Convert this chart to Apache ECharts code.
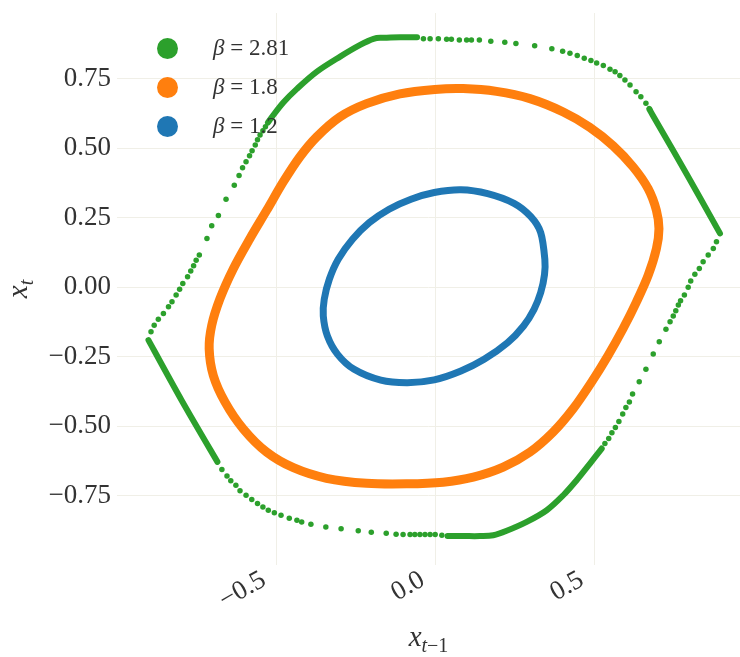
<!DOCTYPE html>
<html><head><meta charset="utf-8">
<script src="https://cdn.jsdelivr.net/npm/echarts@6/dist/echarts.min.js"></script>
<style>html,body{margin:0;padding:0;background:#fff}#c{width:740px;height:657px}</style>
</head><body><div id="c"></div>
<script>
// ---- data ----
const seriesNames = ['β = 2.81', 'β = 1.8', 'β = 1.2'];
const legendValues = ['2.81', '1.8', '1.2'];
const xTicks = [-0.5, 0.0, 0.5];
const yTicks = [-0.75, -0.5, -0.25, 0.0, 0.25, 0.5, 0.75];

const blueLoop = [
  [-0.002,0.340],[0.082,0.350],[0.166,0.336],[0.249,0.301],[0.302,0.253],[0.333,0.196],
  [0.346,0.100],[0.345,0.045],[0.333,-0.020],[0.312,-0.080],[0.279,-0.140],[0.229,-0.200],
  [0.155,-0.260],[0.082,-0.302],[-0.002,-0.334],[-0.086,-0.344],[-0.170,-0.335],[-0.254,-0.296],
  [-0.306,-0.242],[-0.338,-0.176],[-0.351,-0.104],[-0.348,-0.044],[-0.332,0.028],[-0.304,0.100],
  [-0.259,0.172],[-0.206,0.232],[-0.144,0.280],[-0.075,0.316]
];

const orangeLoop = [
  [-0.710,-0.222],[-0.702,-0.138],[-0.676,-0.042],[-0.634,0.066],[-0.582,0.174],[-0.529,0.276],
  [-0.477,0.378],[-0.425,0.468],[-0.372,0.540],[-0.299,0.612],[-0.215,0.660],[-0.110,0.695],
  [0.000,0.711],[0.089,0.714],[0.194,0.704],[0.299,0.678],[0.404,0.630],[0.487,0.575],
  [0.561,0.508],[0.624,0.432],[0.671,0.354],[0.697,0.276],[0.705,0.210],[0.697,0.138],
  [0.671,0.042],[0.634,-0.054],[0.592,-0.150],[0.545,-0.246],[0.493,-0.342],[0.435,-0.438],
  [0.372,-0.522],[0.299,-0.594],[0.215,-0.648],[0.121,-0.684],[0.026,-0.702],[-0.089,-0.708],
  [-0.215,-0.706],[-0.341,-0.688],[-0.445,-0.650],[-0.529,-0.594],[-0.603,-0.510],[-0.660,-0.414],
  [-0.697,-0.318]
];

const greenDots = [
  // left, above the corner
  [-0.893,-0.161],[-0.883,-0.137],[-0.870,-0.116],[-0.854,-0.095],[-0.838,-0.071],[-0.827,-0.053],
  [-0.814,-0.029],[-0.803,-0.008],[-0.793,0.013],[-0.778,0.037],[-0.768,0.058],[-0.759,0.077],
  [-0.751,0.096],[-0.741,0.115],[-0.717,0.175],[-0.702,0.221],[-0.681,0.257],[-0.657,0.316],
  [-0.631,0.366],[-0.616,0.401],[-0.605,0.429],[-0.594,0.451],[-0.583,0.472],[-0.575,0.490],
  [-0.565,0.511],[-0.558,0.530],[-0.550,0.547],[-0.541,0.562],[-0.533,0.577],
  // top
  [-0.036,0.893],[-0.015,0.893],[0.011,0.893],[0.037,0.892],[0.052,0.892],[0.077,0.889],
  [0.100,0.889],[0.115,0.889],[0.140,0.889],[0.176,0.884],[0.220,0.881],[0.255,0.876],
  [0.314,0.868],[0.368,0.857],[0.402,0.848],[0.425,0.841],[0.448,0.833],[0.470,0.823],
  [0.491,0.815],[0.509,0.806],[0.530,0.797],[0.551,0.784],[0.567,0.775],[0.582,0.761],
  [0.598,0.745],[0.614,0.727],[0.633,0.703],[0.648,0.685],[0.664,0.661],
  // right, below the corner
  [0.886,0.163],[0.876,0.139],[0.860,0.115],[0.844,0.091],[0.832,0.067],[0.818,0.046],
  [0.805,0.022],[0.797,-0.001],[0.785,-0.029],[0.773,-0.049],[0.766,-0.065],[0.758,-0.085],
  [0.750,-0.104],[0.740,-0.125],[0.727,-0.152],[0.706,-0.197],[0.687,-0.241],[0.664,-0.296],
  [0.643,-0.341],[0.622,-0.385],[0.612,-0.414],[0.601,-0.433],[0.591,-0.457],[0.579,-0.484],
  [0.568,-0.505],[0.557,-0.524],[0.547,-0.545],[0.535,-0.563],
  // bottom
  [0.022,-0.893],[0.001,-0.890],[-0.015,-0.890],[-0.031,-0.890],[-0.047,-0.890],[-0.063,-0.890],
  [-0.078,-0.890],[-0.100,-0.890],[-0.122,-0.889],[-0.153,-0.886],[-0.200,-0.882],[-0.241,-0.877],
  [-0.295,-0.870],[-0.343,-0.863],[-0.390,-0.853],[-0.419,-0.845],[-0.434,-0.839],[-0.458,-0.832],
  [-0.484,-0.821],[-0.505,-0.812],[-0.524,-0.803],[-0.541,-0.791],[-0.558,-0.779],[-0.576,-0.764],
  [-0.594,-0.749],[-0.613,-0.733],[-0.626,-0.713],[-0.642,-0.697],[-0.654,-0.680],[-0.670,-0.656]
];

const greenBandTop = [
  [-0.525,0.592],[-0.508,0.619],[-0.476,0.665],[-0.434,0.713],[-0.371,0.775],[-0.298,0.829],
  [-0.235,0.871],[-0.193,0.893],[-0.162,0.897],[-0.109,0.899],[-0.056,0.899]
];
const greenBandRight = [[0.677,0.637],[0.685,0.619],[0.792,0.407],[0.897,0.193]];
const greenBandBottom = [
  [0.525,-0.581],[0.488,-0.635],[0.446,-0.695],[0.404,-0.749],[0.352,-0.803],[0.289,-0.845],
  [0.226,-0.877],[0.184,-0.893],[0.142,-0.896],[0.090,-0.896],[0.040,-0.896]
];
const greenBandLeft = [[-0.684,-0.629],[-0.796,-0.409],[-0.901,-0.191]];

// ---- chart ----
const GREEN = '#2ca02c', ORANGE = '#ff7f0e', BLUE = '#1f77b4';
const FONT = 'Liberation Serif';
const TXT = '#333333';
const GRIDC = '#f0efe7';
const minus = s => s.replace('-', '\u2212');

const chart = echarts.init(document.getElementById('c'), null, {renderer: 'canvas'});

// Catmull-Rom spline (as cubic Bezier) through pixel points
function splinePath(pts, closed) {
  const n = pts.length;
  const P = i => closed ? pts[(i + n) % n] : pts[Math.max(0, Math.min(n - 1, i))];
  const f = v => v.toFixed(2);
  let d = 'M' + f(pts[0][0]) + ' ' + f(pts[0][1]);
  const segs = closed ? n : n - 1;
  for (let i = 0; i < segs; i++) {
    const p0 = P(i - 1), p1 = P(i), p2 = P(i + 1), p3 = P(i + 2);
    const c1x = p1[0] + (p2[0] - p0[0]) / 6, c1y = p1[1] + (p2[1] - p0[1]) / 6;
    const c2x = p2[0] - (p3[0] - p1[0]) / 6, c2y = p2[1] - (p3[1] - p1[1]) / 6;
    d += ' C' + f(c1x) + ' ' + f(c1y) + ' ' + f(c2x) + ' ' + f(c2y) + ' ' + f(p2[0]) + ' ' + f(p2[1]);
  }
  if (closed) d += ' Z';
  return d;
}

// a smooth curve through the read points, positioned with the chart's own axes (api.coord)
function curveSeries(name, data, color, width, closed) {
  return {
    name: name, type: 'custom', data: data, encode: {x: 0, y: 1},
    itemStyle: {color: color}, silent: true, z: 2,
    renderItem: function (params, api) {
      if (params.dataIndex !== 0) return null;
      const pts = data.map(p => api.coord(p));
      return {
        type: 'path',
        shape: {pathData: splinePath(pts, closed)},
        style: {fill: 'none', stroke: color, lineWidth: width, lineCap: 'round', lineJoin: 'round'}
      };
    }
  };
}

const option = {
  animation: false,
  backgroundColor: '#ffffff',
  grid: {left: 117, right: 0, top: 13, bottom: 92, containLabel: false, outerBoundsMode: 'none'},
  legend: {
    data: seriesNames, orient: 'vertical', left: 157, top: 37, padding: 0,
    icon: 'circle', itemWidth: 21, itemHeight: 21, itemGap: 16,
    formatter: name => '{g|β}{n| = ' + legendValues[seriesNames.indexOf(name)] + '}',
    textStyle: {
      color: TXT,
      rich: {
        g: {fontFamily: FONT, fontStyle: 'italic', fontSize: 23, color: TXT, padding: [0, 0, 0, 30]},
        n: {fontFamily: FONT, fontSize: 23, color: TXT}
      }
    }
  },
  xAxis: {
    type: 'value', min: -1.0, max: 0.96, interval: 0.5,
    axisLine: {show: false}, axisTick: {show: false},
    splitLine: {show: true, showMinLine: false, showMaxLine: false, lineStyle: {color: GRIDC, width: 1}},
    axisLabel: {
      rotate: 30, margin: 6,
      fontFamily: FONT, fontSize: 27, color: TXT,
      showMinLabel: false, showMaxLabel: false,
      formatter: v => xTicks.some(t => Math.abs(t - v) < 1e-6) ? '{v|' + minus(v.toFixed(1)) + '}{p| }' : '',
      rich: {
        v: {fontFamily: FONT, fontSize: 27, color: TXT},
        p: {fontFamily: FONT, fontSize: 27, width: 14}
      }
    },
    name: '{a|x}{b|t}{c|\u22121}', nameLocation: 'middle', nameGap: 59,
    nameTextStyle: {
      color: TXT,
      rich: {
        a: {fontFamily: FONT, fontStyle: 'italic', fontSize: 29, color: TXT, verticalAlign: 'bottom', padding: [0, 0, 4, 0]},
        b: {fontFamily: FONT, fontStyle: 'italic', fontSize: 20, color: TXT, verticalAlign: 'bottom'},
        c: {fontFamily: FONT, fontSize: 20, color: TXT, verticalAlign: 'bottom'}
      }
    }
  },
  yAxis: {
    type: 'value', min: -1.0, max: 0.986, interval: 0.25,
    axisLine: {show: false}, axisTick: {show: false},
    splitLine: {show: true, showMinLine: false, showMaxLine: false, lineStyle: {color: GRIDC, width: 1}},
    axisLabel: {
      margin: 6, fontFamily: FONT, fontSize: 27, color: TXT,
      showMinLabel: false, showMaxLabel: false,
      formatter: v => yTicks.some(t => Math.abs(t - v) < 1e-6) ? minus(v.toFixed(2)) : ''
    },
    name: '{a|x}{b|t}', nameLocation: 'middle', nameGap: 75, nameRotate: 90,
    nameTextStyle: {
      color: TXT,
      rich: {
        a: {fontFamily: FONT, fontStyle: 'italic', fontSize: 29, color: TXT, verticalAlign: 'bottom', padding: [0, 0, 4, 0]},
        b: {fontFamily: FONT, fontStyle: 'italic', fontSize: 20, color: TXT, verticalAlign: 'bottom'}
      }
    }
  },
  series: [
    {name: seriesNames[0], type: 'scatter', data: greenDots, symbolSize: 5.5,
     itemStyle: {color: GREEN, opacity: 1}, z: 2, silent: true},
    curveSeries(seriesNames[0], greenBandTop, GREEN, 6, false),
    curveSeries(seriesNames[0], greenBandRight, GREEN, 6, false),
    curveSeries(seriesNames[0], greenBandBottom, GREEN, 6, false),
    curveSeries(seriesNames[0], greenBandLeft, GREEN, 6, false),
    curveSeries(seriesNames[1], orangeLoop, ORANGE, 9, true),
    curveSeries(seriesNames[2], blueLoop, BLUE, 7, true)
  ]
};
chart.setOption(option);
</script>
</body></html>
